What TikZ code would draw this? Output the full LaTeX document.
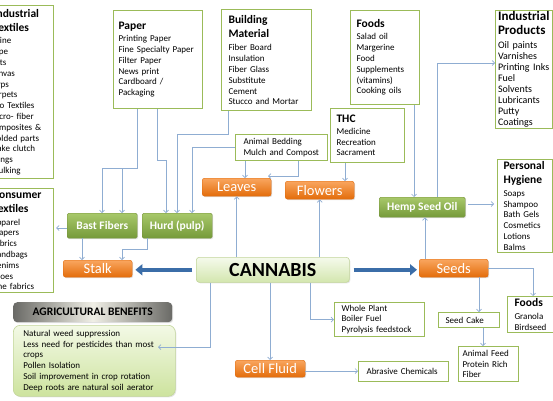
\documentclass[tikz,border=0pt]{standalone}
\usepackage{fontspec}
\setmainfont{Carlito}
\usetikzlibrary{arrows.meta,shadows,calc}
\definecolor{boxgreen}{HTML}{9BBB59}
\definecolor{connc}{HTML}{8FADD2}
\definecolor{orTop}{HTML}{F9A65F}
\definecolor{orBot}{HTML}{E36C0A}
\definecolor{orBd}{HTML}{E06A0C}
\definecolor{grTop}{HTML}{A8C86A}
\definecolor{grBot}{HTML}{759A3A}
\definecolor{grBd}{HTML}{76923C}
\definecolor{cnTop}{HTML}{F5FAEC}
\definecolor{cnBot}{HTML}{D3E6AE}
\definecolor{cnBd}{HTML}{C3D69B}
\definecolor{bigArr}{HTML}{3B6DA8}
\definecolor{hdDark}{HTML}{6A6A66}
\definecolor{hdLight}{HTML}{F0EFE6}
\definecolor{bnTop}{HTML}{F3F9E6}
\definecolor{bnBot}{HTML}{CDE39E}
\lineskiplimit=-20pt
\newcommand\fsm{\fontsize{9}{10.8}\selectfont}
\newcommand\fsl{\fontsize{10}{11.1}\selectfont}
\newcommand\hdf{\fontsize{11.5}{13.8}\selectfont\bfseries}
\newcommand\hdl{\fontsize{13}{14}\selectfont\bfseries}
\tikzset{
  gbox/.style={draw=boxgreen, line width=1.1pt, fill=white, anchor=north west,
    align=left, inner ysep=0pt, font=\fsm},
  obox/.style={anchor=north west, rounded corners=2.5pt, top color=orTop,
    bottom color=orBot, draw=orBd, line width=0.4pt, text=white,
    font=\fontsize{14.5}{16}\selectfont, inner sep=0pt,
    drop shadow={shadow xshift=1pt,shadow yshift=-1pt,opacity=0.25}},
  grbox/.style={anchor=north west, rounded corners=1.5pt, top color=grTop,
    bottom color=grBot, draw=grBd, line width=0.4pt, text=white,
    font=\fontsize{11.5}{13}\selectfont\bfseries, inner sep=0pt,
    drop shadow={shadow xshift=1pt,shadow yshift=-1pt,opacity=0.25}},
  conn/.style={draw=connc, line width=0.7pt, -{Straight Barb[length=2.5pt,width=5pt]}},
  bigarrow/.style={draw=bigArr, line width=4.5pt, -{Triangle[length=7pt,width=11pt]}},
}
\begin{document}
\begin{tikzpicture}[x=1pt,y=-1pt]
\useasboundingbox (0,0) rectangle (553,400);
\clip (0,0) rectangle (553,400);
\fill[white] (0,0) rectangle (553,400);

% ---------- text boxes ----------
\node[gbox, minimum width=70pt, minimum height=173pt, text width=58pt, inner xsep=6pt] (indtex) at (-17,5)
 {\hspace*{4pt}{\hdf Industrial}\\[3pt]\hspace*{4pt}{\hdf Textiles}\\[2pt]Twine\\Rope\\Nets\\Canvas\\Tarps\\Carpets\\Geo Textiles\\Micro- fiber\\Composites \&\\molded parts\\Brake clutch\\linings\\Caulking};
\node[gbox, minimum width=68pt, minimum height=104pt, text width=56pt, inner xsep=6pt] (contex) at (-15,188)
 {\hspace*{1.5pt}{\hdf Consumer}\\[3pt]\hspace*{1.5pt}{\hdf Textiles}\\[2pt]Apparel\\Diapers\\Fabrics\\Handbags\\Denims\\Shoes\\Fine fabrics};
\node[gbox, minimum width=89pt, minimum height=98pt, text width=79pt, inner xsep=5pt] (paper) at (113,10)
 {{\hdf Paper}\\[1.5pt]Printing Paper\\Fine Specialty Paper\\Filter Paper\\News print\\Cardboard /\\Packaging};
\node[gbox, minimum width=90pt, minimum height=101pt, text width=76pt, inner xsep=7pt] (build) at (221,9)
 {{\hdf Building}\\[3pt]{\hdf Material}\\[3pt]Fiber Board\\Insulation\\Fiber Glass\\Substitute\\Cement\\Stucco and Mortar};
\node[gbox, minimum width=69pt, minimum height=94pt, text width=57pt, inner xsep=6pt] (foods1) at (350,10)
 {{\hdf Foods}\\[1.5pt]Salad oil\\Margerine\\Food\\Supplements\\(vitamins)\\Cooking oils};
\node[gbox, minimum width=74pt, minimum height=54pt, text width=62pt, inner xsep=6pt] (thc) at (330,108)
 {{\hdf THC}\\[1pt]Medicine\\Recreation\\Sacrament};
\node[gbox, minimum width=92pt, minimum height=26pt, text width=76pt, inner xsep=8pt] (animbed) at (235,134)
 {Animal Bedding\\Mulch and Compost};
\node[gbox, minimum width=57pt, minimum height=118pt, text width=52pt, inner xsep=2.5pt, font=\fsl] (indprod) at (495,10)
 {{\hdl Industrial}\\[3pt]{\hdl Products}\\[2pt]Oil paints\\Varnishes\\Printing Inks\\Fuel\\Solvents\\Lubricants\\Putty\\Coatings};
\node[gbox, minimum width=55pt, minimum height=93pt, text width=43pt, inner xsep=6pt] (hyg) at (497,159)
 {{\hdf Personal}\\[3pt]{\hdf Hygiene}\\[2pt]Soaps\\Shampoo\\Bath Gels\\Cosmetics\\Lotions\\Balms};
\node[gbox, minimum width=50pt, minimum height=36pt, text width=36pt, inner xsep=7pt] (foods2) at (507,296)
 {{\hdf Foods}\\[2pt]Granola\\Birdseed};
\node[gbox, minimum width=61pt, minimum height=15pt, text width=47pt, inner xsep=7pt] (seedcake) at (438,312)
 {Seed Cake};
\node[gbox, minimum width=60pt, minimum height=35pt, text width=52pt, inner xsep=4pt] (animfeed) at (458,346)
 {Animal Feed\\Protein Rich\\Fiber};
\node[gbox, minimum width=90pt, minimum height=34pt, text width=76pt, inner xsep=7pt] (wholeplant) at (334,302)
 {Whole Plant\\Boiler Fuel\\Pyrolysis feedstock};
\node[gbox, minimum width=90pt, minimum height=20pt, text width=74pt, inner xsep=8pt] (abrasive) at (358,361)
 {Abrasive Chemicals};

% ---------- orange nodes ----------
\node[obox, minimum width=69pt, minimum height=18pt] (leaves) at (202,178) {Leaves};
\node[obox, minimum width=69pt, minimum height=18pt] (flowers) at (285,181) {Flowers};
\node[obox, minimum width=69pt, minimum height=17pt] (stalk) at (63,260) {Stalk};
\node[obox, minimum width=69pt, minimum height=18pt] (seeds) at (419,259) {Seeds};
\node[obox, minimum width=70pt, minimum height=17pt] (cellfluid) at (235,360) {Cell Fluid};

% ---------- green nodes ----------
\node[grbox, minimum width=70pt, minimum height=25pt] (bast) at (67,213) {Bast Fibers};
\node[grbox, minimum width=70pt, minimum height=25pt] (hurd) at (142,213) {Hurd (pulp)};
\node[grbox, minimum width=86pt, minimum height=20pt] (hempoil) at (379,197) {Hemp Seed Oil};

% ---------- centre ----------
\node[anchor=north west, rounded corners=3pt, top color=cnTop, bottom color=cnBot, draw=cnBd,
  line width=0.6pt, minimum width=153pt, minimum height=25pt, inner sep=0pt,
  font=\fontsize{20}{22}\selectfont\bfseries,
  drop shadow={shadow xshift=1pt,shadow yshift=-1pt,opacity=0.2}] (cannabis) at (196,257) {CANNABIS};

% ---------- agricultural benefits ----------
\node[anchor=north west, rounded corners=4pt, left color=hdDark, right color=hdDark, middle color=hdLight,
  minimum width=159pt, minimum height=20pt, inner sep=0pt,
  font=\fontsize{11.5}{13}\selectfont\bfseries,
  drop shadow={shadow xshift=1pt,shadow yshift=-1pt,opacity=0.25}] (aghead) at (13,302) {AGRICULTURAL BENEFITS};
\node[anchor=north west, rounded corners=7pt, top color=bnTop, bottom color=bnBot, draw=cnBd,
  line width=0.6pt, minimum width=162pt, minimum height=71pt, text width=142pt, inner xsep=10pt,
  inner ysep=0pt, align=left, font=\fsm,
  drop shadow={shadow xshift=1pt,shadow yshift=-1pt,opacity=0.2}] (benefits) at (13,325)
 {Natural weed suppression\\Less need for pesticides than most\\crops\\Pollen Isolation\\Soil improvement in crop rotation\\Deep roots are natural soil aerator};
\coordinate (agtip) at (158,347);

% ---------- thin connectors ----------
\draw[conn] (paper.south -| 137,0) -- (137,168) -- (102,168) -- (bast.north -| 102,0);
\draw[conn] (122,168) -- (bast.north -| 122,0);
\draw[conn] (paper.south -| 157,0) |- (166,160) -- (hurd.north -| 166,0);
\draw[conn] (build.south -| 228,0) |- (177,134) -- (hurd.north -| 177,0);
\draw[conn] (animbed.west) -| (hurd.north -| 192,0);
\draw[conn] (animbed.south -| 245,0) -- (leaves.north -| 245,0);
\draw[conn] (animbed.south -| 298,0) |- (268,176);
\draw[conn] (cannabis.north -| leaves.south) -- (leaves.south);
\draw[conn] (cannabis.north -| flowers.south) -- (flowers.south);
\draw[conn] (thc.south -| 345,0) -- (flowers.north -| 345,0);
\draw[conn] (foods1.south -| 414,0) -- (hempoil.north -| 414,0);
\draw[conn] (hempoil.north -| 437,0) |- (indprod.west |- 0,63);
\draw[conn] ($(hempoil.east |- 0,204)+(3,0)$) -- ($(hyg.west |- 0,204)+(-3,0)$);
\draw[conn] (seeds.north -| 425,0) -- (hempoil.south -| 425,0);
\draw[conn] (seeds.east) -| (foods2.north -| 533,0);
\draw[conn] (seeds.south -| 479,0) -- (seedcake.north -| 479,0);
\draw[conn] (seedcake.south -| 483,0) -- (animfeed.north -| 483,0);
\draw[conn] (cannabis.south -| 310,0) |- (wholeplant.west);
\draw[conn] (cannabis.south -| cellfluid.north) -- (cellfluid.north);
\draw[conn] (cellfluid.east |- 0,371) -- (abrasive.west |- 0,371);
\draw[conn] (cannabis.south -| 210,0) |- (agtip);
\draw[conn] (bast.west |- 0,228) -- ($(contex.east |- 0,228)+(2,0)$);
\draw[conn] (bast.south -| 82,0) -- (stalk.north -| 82,0);
\draw[conn] (hurd.south -| 147,0) |- (122,249) -- (stalk.north -| 122,0);

% ---------- thick arrows ----------
\draw[bigarrow] ($(cannabis.west)+(-4,0)$) -- ($(stalk.east |- cannabis.west)+(3,0)$);
\draw[bigarrow] ($(cannabis.east)+(4,0)$) -- ($(seeds.west |- cannabis.east)+(-2,0)$);
\end{tikzpicture}
\end{document}
